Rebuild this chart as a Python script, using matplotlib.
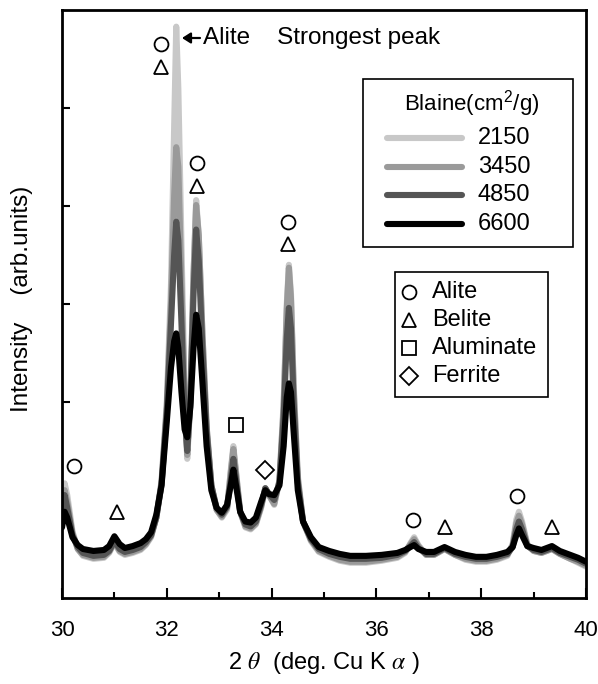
import matplotlib
matplotlib.use('Agg')
import matplotlib.pyplot as plt
from matplotlib.lines import Line2D
from matplotlib.patches import Rectangle

plt.rcParams['font.family'] = ['Liberation Sans', 'DejaVu Sans']
plt.rcParams['mathtext.fontset'] = 'stix'

# 2theta positions (deg)
two_theta = [30.0, 30.05, 30.1, 30.2, 30.3, 30.4, 30.6, 30.8, 30.9, 31.0, 31.1, 31.2,
             31.35, 31.5, 31.6, 31.7, 31.8, 31.9, 32.0, 32.08, 32.14, 32.18, 32.22,
             32.28, 32.34, 32.39, 32.45, 32.51, 32.56, 32.61, 32.68, 32.76, 32.85,
             32.95, 33.05, 33.15, 33.22, 33.27, 33.32, 33.4, 33.5, 33.6, 33.7, 33.8,
             33.88, 33.95, 34.05, 34.15, 34.23, 34.29, 34.33, 34.37, 34.42, 34.5,
             34.6, 34.75, 34.9, 35.1, 35.3, 35.5, 35.8, 36.1, 36.4, 36.55, 36.65,
             36.72, 36.8, 36.95, 37.1, 37.3, 37.5, 37.7, 37.9, 38.1, 38.3, 38.5,
             38.6, 38.67, 38.72, 38.78, 38.88, 39.0, 39.15, 39.35, 39.5, 39.7,
             39.85, 40.0]

# intensities (arb. units) for each Blaine fineness
blaine_2150 = [0.95, 1.17, 1.05, 0.68, 0.50, 0.43, 0.40, 0.41, 0.46, 0.56, 0.47, 0.44,
               0.46, 0.49, 0.54, 0.62, 0.82, 1.20, 2.00, 3.20, 4.80, 5.83, 5.20,
               3.60, 2.10, 1.42, 2.00, 3.30, 4.06, 3.70, 2.70, 1.75, 1.15,
               0.90, 0.82, 0.90, 1.30, 1.55, 1.30, 0.88, 0.72, 0.70, 0.75, 0.92,
               1.12, 1.05, 0.95, 1.20, 2.00, 3.00, 3.40, 3.10, 2.20, 1.25,
               0.78, 0.58, 0.47, 0.42, 0.38, 0.36, 0.36, 0.38, 0.41, 0.46, 0.56,
               0.62, 0.54, 0.44, 0.44, 0.50, 0.44, 0.39, 0.37, 0.37, 0.39, 0.43,
               0.55, 0.80, 0.88, 0.78, 0.55, 0.48, 0.46, 0.50, 0.45, 0.40,
               0.36, 0.32]
blaine_3450 = [0.85, 1.10, 0.98, 0.66, 0.50, 0.44, 0.41, 0.42, 0.47, 0.57, 0.48, 0.45,
               0.47, 0.50, 0.55, 0.63, 0.82, 1.18, 1.95, 3.00, 4.10, 4.60, 4.40,
               3.20, 2.00, 1.46, 2.05, 3.30, 4.01, 3.70, 2.70, 1.75, 1.15,
               0.90, 0.83, 0.92, 1.28, 1.52, 1.28, 0.88, 0.73, 0.71, 0.76, 0.93,
               1.12, 1.05, 0.96, 1.20, 1.95, 2.95, 3.37, 3.05, 2.15, 1.22,
               0.78, 0.59, 0.48, 0.43, 0.39, 0.37, 0.37, 0.39, 0.42, 0.47, 0.55,
               0.60, 0.53, 0.44, 0.44, 0.50, 0.44, 0.40, 0.38, 0.38, 0.40, 0.44,
               0.54, 0.76, 0.84, 0.75, 0.54, 0.48, 0.46, 0.50, 0.45, 0.40,
               0.37, 0.33]
blaine_4850 = [0.80, 1.05, 0.92, 0.64, 0.52, 0.46, 0.43, 0.44, 0.48, 0.58, 0.50, 0.47,
               0.49, 0.52, 0.57, 0.64, 0.82, 1.16, 1.90, 2.80, 3.50, 3.84, 3.65,
               2.80, 1.85, 1.50, 2.00, 3.10, 3.76, 3.45, 2.55, 1.70, 1.15,
               0.92, 0.85, 0.93, 1.20, 1.42, 1.22, 0.88, 0.75, 0.73, 0.78, 0.95,
               1.12, 1.06, 1.00, 1.18, 1.85, 2.65, 2.96, 2.75, 2.00, 1.18,
               0.78, 0.60, 0.50, 0.45, 0.42, 0.40, 0.40, 0.41, 0.44, 0.48, 0.53,
               0.57, 0.51, 0.45, 0.45, 0.51, 0.45, 0.42, 0.40, 0.40, 0.42, 0.45,
               0.52, 0.70, 0.78, 0.70, 0.53, 0.49, 0.47, 0.51, 0.46, 0.42,
               0.39, 0.35]
blaine_6600 = [0.72, 0.88, 0.82, 0.62, 0.54, 0.50, 0.48, 0.49, 0.53, 0.63, 0.55, 0.51,
               0.53, 0.56, 0.60, 0.67, 0.85, 1.15, 1.80, 2.35, 2.62, 2.70, 2.55,
               2.10, 1.72, 1.64, 1.95, 2.55, 2.89, 2.75, 2.20, 1.55, 1.10,
               0.92, 0.87, 0.95, 1.15, 1.31, 1.15, 0.88, 0.78, 0.77, 0.82, 0.98,
               1.10, 1.06, 1.05, 1.15, 1.55, 2.05, 2.19, 2.10, 1.70, 1.10,
               0.78, 0.62, 0.52, 0.48, 0.45, 0.43, 0.43, 0.44, 0.46, 0.49, 0.52,
               0.54, 0.50, 0.47, 0.47, 0.52, 0.47, 0.44, 0.42, 0.42, 0.44, 0.47,
               0.52, 0.64, 0.71, 0.64, 0.53, 0.51, 0.49, 0.53, 0.48, 0.44,
               0.41, 0.37]

series = [blaine_2150, blaine_3450, blaine_4850, blaine_6600]
series_labels = ['2150', '3450', '4850', '6600']
series_colors = ['#c8c8c8', '#9a9a9a', '#555555', '#000000']

# phase marker positions (2theta, height)
alite_x = [31.89, 32.58, 34.31, 30.23, 36.70, 38.68]
alite_y = [5.65, 4.44, 3.84, 1.35, 0.80, 1.04]
belite_x = [31.89, 32.58, 34.31, 31.05, 37.31, 39.35]
belite_y = [5.42, 4.20, 3.61, 0.88, 0.72, 0.72]
aluminate_x = [33.32]
aluminate_y = [1.77]
ferrite_x = [33.87]
ferrite_y = [1.31]
phase_names = ['Alite', 'Belite', 'Aluminate', 'Ferrite']
phase_markers = ['o', '^', 's', 'D']

W, H = 598, 684
fig = plt.figure(figsize=(W / 100, H / 100), dpi=100)
ax = fig.add_axes([62 / W, 1 - 598 / H, (586 - 62) / W, (598 - 10) / H])


def px(x, y):
    # figure pixel (from top-left) -> figure fraction
    return x / W, 1 - y / H


for ys, c, lab in zip(series, series_colors, series_labels):
    ax.plot(two_theta, ys, color=c, lw=4.4, solid_capstyle='round',
            solid_joinstyle='round', label=lab)

mk = dict(ls='none', mfc='white', mec='black', mew=1.3, ms=10, zorder=5)
ax.plot(alite_x, alite_y, marker='o', **mk)
ax.plot(belite_x, belite_y, marker='^', **mk)
ax.plot(aluminate_x, aluminate_y, marker='s', **mk)
ax.plot(ferrite_x, ferrite_y, marker='D', **dict(mk, ms=9))

# arrow and note for the strongest alite peak
fig.add_artist(matplotlib.patches.FancyArrowPatch(
    px(200, 38), px(182, 38), transform=fig.transFigure,
    arrowstyle='-|>,head_length=5,head_width=3.2', mutation_scale=1,
    color='black', lw=1.6, shrinkA=0, shrinkB=0))
fig.text(*px(203, 38), 'Alite    Strongest peak', fontsize=17.5,
         ha='left', va='center')

ax.set_xlim(30, 40)
ax.set_ylim(0, 6)
ax.set_xticks([30, 32, 34, 36, 38, 40])
ax.set_xticks([31, 33, 35, 37, 39], minor=True)
ax.set_yticks([1, 2, 3, 4, 5])
ax.set_yticklabels([])
ax.tick_params(axis='x', which='major', direction='in', length=7, width=1.5,
               labelsize=16, pad=16)
ax.tick_params(axis='x', which='minor', direction='in', length=4, width=1.5)
ax.tick_params(axis='y', direction='in', length=6, width=1.5)
for s in ax.spines.values():
    s.set_linewidth(2)

fig.text(*px(324, 663), r'2 $\theta$  (deg. Cu K $\alpha$ )', fontsize=17,
         ha='center', va='center')
fig.text(*px(22, 299), 'Intensity    (arb.units)', fontsize=17.5,
         ha='center', va='center', rotation=90)

# legend box for fineness
x0, y0 = px(363, 247)
x1, y1 = px(573, 79)
fig.add_artist(Rectangle((x0, y0), x1 - x0, y1 - y0, transform=fig.transFigure,
                         fill=True, fc='white', ec='black', lw=1.2, zorder=6))
fig.text(*px(472, 104), r'Blaine(cm$^{\mathregular{2}}$/g)', fontsize=16,
         ha='center', va='center', zorder=7)
for i, (c, lab) in enumerate(zip(series_colors, series_labels)):
    yy = 138 + i * 28.7
    xa, ya = px(387, yy)
    xb, _ = px(462, yy)
    fig.add_artist(Line2D([xa, xb], [ya, ya], transform=fig.transFigure, color=c,
                          lw=4.4, solid_capstyle='round', zorder=7))
    fig.text(*px(478, yy), lab, fontsize=17, ha='left', va='center', zorder=7)

# legend box for phases
x0, y0 = px(395, 397)
x1, y1 = px(548, 272)
fig.add_artist(Rectangle((x0, y0), x1 - x0, y1 - y0, transform=fig.transFigure,
                         fill=True, fc='white', ec='black', lw=1.2, zorder=6))
for i, (m, name) in enumerate(zip(phase_markers, phase_names)):
    yy = 292 + i * 28
    xa, ya = px(409, yy)
    fig.add_artist(Line2D([xa], [ya], transform=fig.transFigure, marker=m,
                          **dict(mk, ms=9 if m == 'D' else 10, zorder=7)))
    fig.text(*px(432, yy), name, fontsize=17, ha='left', va='center', zorder=7)

fig.savefig('out.png', dpi=100)
